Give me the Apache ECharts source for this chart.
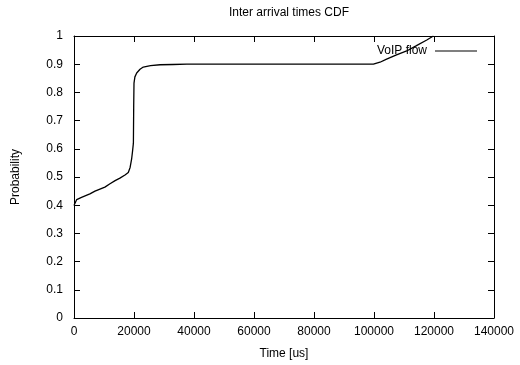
<!DOCTYPE html>
<html>
<head>
<meta charset="utf-8">
<script src="https://cdn.jsdelivr.net/npm/echarts@6/dist/echarts.min.js"></script>
<style>
  html, body { margin: 0; padding: 0; background: #fff; }
  #chart { width: 520px; height: 365px; }
</style>
</head>
<body>
<div id="chart"></div>
<script>
// CDF samples
const timeUs = [0, 900, 2500, 5300, 7000, 10300, 12000, 13700, 15300, 17000, 18100, 18700, 19200, 19500, 19800, 19900, 20000, 20300, 20900, 22000, 23100, 25500, 28700, 33000, 37600, 60000, 80000, 99800, 102000, 104200, 107500, 110900, 114000, 117600, 119800]
const prob = [0.399, 0.42, 0.428, 0.44, 0.45, 0.464, 0.476, 0.487, 0.496, 0.507, 0.516, 0.534, 0.563, 0.59, 0.62, 0.75, 0.833, 0.855, 0.869, 0.882, 0.89, 0.895, 0.898, 0.899, 0.9, 0.9, 0.9, 0.9, 0.907, 0.918, 0.933, 0.947, 0.965, 0.986, 1.0]
const xTicks = { min: 0, max: 140000, step: 20000 }
const yTicks = { min: 0, max: 1, step: 0.1 }

const chart = echarts.init(document.getElementById("chart"))
const font = "Liberation Sans, Arial, sans-serif"

const axisBase = {
  axisLine: { show: true, onZero: false, lineStyle: { color: "#000", width: 1 } },
  axisTick: { show: true, inside: true, length: 6, lineStyle: { color: "#000" } },
  splitLine: { show: false },
}

const option = {
  animation: false,
  textStyle: { fontFamily: font },
  title: {
    text: "Inter arrival times CDF",
    left: 284,
    top: 2,
    textAlign: "center",
    textStyle: { fontSize: 12, fontWeight: "normal", color: "#000", fontFamily: font },
  },
  legend: {
    data: ["VoIP flow"],
    right: 38,
    top: 40,
    align: "right",
    icon: "rect",
    itemWidth: 42,
    itemHeight: 1,
    itemGap: 8,
    textStyle: { fontSize: 12, color: "#000", fontFamily: font, padding: [0, 3, 0, 0] },
  },
  grid: { left: 74, right: 26, top: 36, bottom: 45 },
  xAxis: [
    {
      ...axisBase,
      type: "value",
      min: xTicks.min,
      max: xTicks.max,
      interval: xTicks.step,
      name: "Time [us]",
      nameLocation: "middle",
      nameGap: 30,
      nameTextStyle: { fontSize: 12, color: "#000", fontFamily: font },
      axisLabel: { fontSize: 12, color: "#000", margin: 8, fontFamily: font, formatter: (v) => String(v) },
    },
    {
      ...axisBase,
      type: "value",
      position: "top",
      min: xTicks.min,
      max: xTicks.max,
      interval: xTicks.step,
      axisLabel: { show: false },
    },
  ],
  yAxis: [
    {
      ...axisBase,
      type: "value",
      min: yTicks.min,
      max: yTicks.max,
      interval: yTicks.step,
      name: "Probability",
      nameLocation: "middle",
      nameGap: 52,
      nameTextStyle: { fontSize: 12, color: "#000", fontFamily: font },
      axisLabel: {
        fontSize: 12,
        color: "#000",
        margin: 11,
        fontFamily: font,
        formatter: (v) => String(Math.round(v * 10) / 10),
      },
    },
    {
      ...axisBase,
      type: "value",
      position: "right",
      min: yTicks.min,
      max: yTicks.max,
      interval: yTicks.step,
      axisLabel: { show: false },
    },
  ],
  series: [
    {
      name: "VoIP flow",
      type: "line",
      data: timeUs.map((t, i) => [t, prob[i]]),
      showSymbol: false,
      symbol: "none",
      smooth: false,
      lineStyle: { color: "#000", width: 1.3 },
      itemStyle: { color: "#000" },
    },
  ],
}

chart.setOption(option)
</script>
</body>
</html>
